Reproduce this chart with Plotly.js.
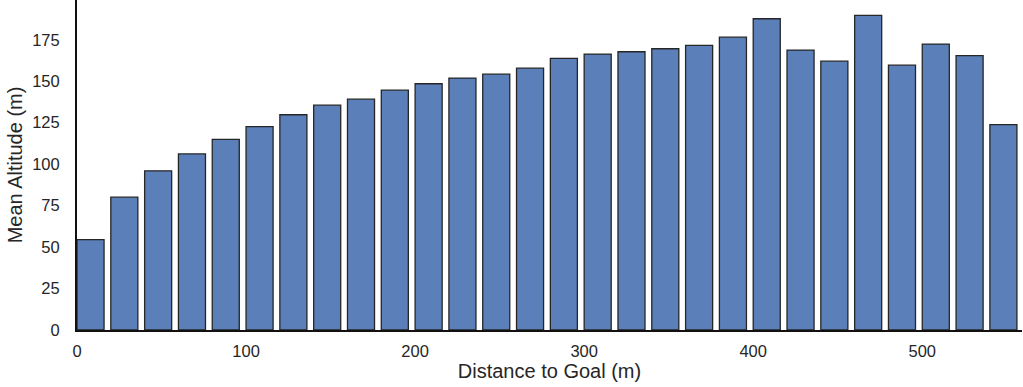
<!DOCTYPE html>
<html>
<head>
<meta charset="utf-8">
<script src="https://cdn.plot.ly/plotly-3.0.1.min.js"></script>
<style>html,body{margin:0;padding:0;background:#fff;}#chart{width:1023px;height:387px;}</style>
</head>
<body>
<div id="chart"></div>
<script>
// Bin start (distance to goal, m) and mean altitude (m)
const binStart = [0, 20, 40, 60, 80, 100, 120, 140, 160, 180, 200, 220, 240, 260,
                  280, 300, 320, 340, 360, 380, 400, 420, 440, 460, 480, 500, 520, 540];
const meanAltitude = [54.5, 80.1, 96.0, 106.2, 114.9, 122.7, 129.8, 135.6, 139.2, 144.6,
                      148.5, 151.9, 154.3, 157.9, 163.8, 166.4, 167.8, 169.6, 171.6, 176.6,
                      187.7, 168.8, 162.1, 189.7, 159.7, 172.4, 165.4, 123.9];
const xTicks = [0, 100, 200, 300, 400, 500];
const yTicks = [0, 25, 50, 75, 100, 125, 150, 175];

const textColor = '#262626';
const font = {family: '"Liberation Sans", Arial, sans-serif', size: 16.5, color: textColor};

Plotly.newPlot('chart', [{
  type: 'bar',
  x: binStart,
  y: meanAltitude,
  width: 16,
  offset: 0,
  marker: {color: '#5b7fb9', line: {color: '#262626', width: 1.3}},
  hoverinfo: 'x+y'
}], {
  width: 1023, height: 387,
  margin: {l: 77, r: 1, t: 0, b: 57},
  paper_bgcolor: '#fff', plot_bgcolor: '#fff',
  font: font,
  showlegend: false,
  xaxis: {
    range: [0, 559],
    tickvals: xTicks, ticktext: xTicks.map(String),
    showgrid: false, zeroline: false,
    showline: true, linecolor: '#111', linewidth: 2,
    ticks: 'outside', ticklen: 5, tickcolor: 'rgba(0,0,0,0)',
    tickfont: font,
    title: {text: 'Distance to Goal (m)', font: {family: font.family, size: 20, color: textColor}, standoff: 3}
  },
  yaxis: {
    range: [0, 199],
    tickvals: yTicks, ticktext: yTicks.map(String),
    showgrid: false, zeroline: false,
    showline: true, linecolor: '#111', linewidth: 2,
    ticks: 'outside', ticklen: 12, tickcolor: 'rgba(0,0,0,0)',
    tickfont: font,
    title: {text: 'Mean Altitude (m)', font: {family: font.family, size: 20, color: textColor}, standoff: 4}
  }
}, {displayModeBar: false, staticPlot: true});
</script>
</body>
</html>
